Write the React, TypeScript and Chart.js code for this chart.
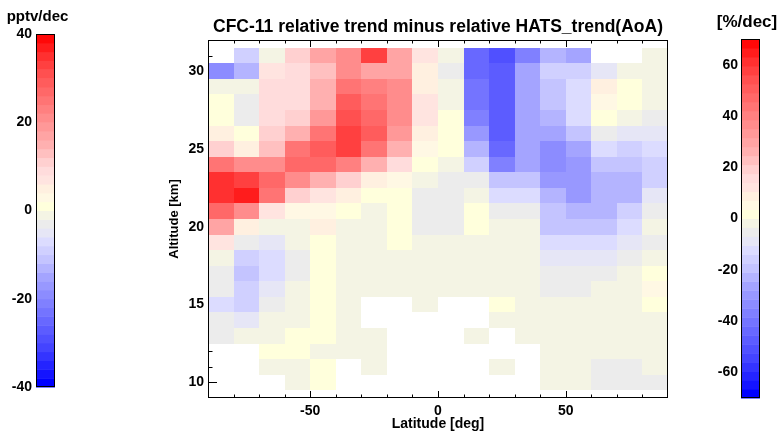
import { useEffect, useRef } from "react";
import { Chart, registerables } from "chart.js";

Chart.register(...registerables);

const FONT = '"Liberation Sans", Arial, Helvetica, sans-serif';

// Latitude bin centres [deg] (10° bins) and altitude bin centres [km] (1 km bins, top → bottom)
const latCenters = [-85, -75, -65, -55, -45, -35, -25, -15, -5, 5, 15, 25, 35, 45, 55, 65, 75, 85];
const altCenters = [31, 30, 29, 28, 27, 26, 25, 24, 23, 22, 21, 20, 19, 18, 17, 16, 15, 14, 13, 12, 11, 10];
const LAT_BIN = 10;
const ALT_BIN = 1;

// CFC-11 relative trend minus relative HATS trend(AoA) [%/dec]; rows follow altCenters,
// columns follow latCenters, null = no data in that bin
const N = null;
const relTrendDiff: (number | null)[][] = [
  [N, -16, -2, 19, 30, 37, 58, 30, 12, -2, -44, -51, -37, -23, -26, N, N, -2], // 31 km
  [-33, -23, 12, 16, 23, 37, 30, 30, 9, -5, -44, -47, -26, -16, -16, -9, -2, -2], // 30 km
  [-2, -2, 16, 16, 26, 44, 40, 37, 9, -2, -40, -47, -26, -19, -12, 9, 2, -2], // 29 km
  [2, -5, 16, 16, 26, 51, 44, 37, 12, -2, -40, -47, -26, -19, -12, 5, 2, -2], // 28 km
  [2, -5, 16, 19, 33, 54, 47, 37, 12, 2, -37, -47, -26, -23, -13, 2, -2, -5], // 27 km
  [9, 2, 19, 26, 44, 58, 51, 33, 9, 2, -30, -47, -26, -26, -19, -5, -9, -9], // 26 km
  [19, 9, 23, 44, 51, 58, 44, 26, 5, 2, -23, -44, -26, -33, -26, -12, -16, -12], // 25 km
  [44, 37, 37, 47, 47, 40, 26, 16, 2, -2, -16, -37, -26, -33, -30, -19, -19, -16], // 24 km
  [61, 58, 47, 37, 26, 19, 9, 5, -2, -5, -5, -19, -19, -30, -30, -23, -23, -16], // 23 km
  [61, 65, 44, 19, 12, 9, 2, 2, -5, -5, -2, -12, -12, -23, -30, -23, -23, -9], // 22 km
  [47, 37, 12, 5, 5, 2, -2, 2, -5, -5, 2, -5, -5, -19, -23, -23, -16, -5], // 21 km
  [28, 9, -2, -2, 9, -2, -2, 2, -5, -5, 2, -2, -2, -18, -20, -20, -12, -2], // 20 km
  [12, -5, -9, -2, 2, -2, -2, 2, -2, -2, -2, -2, -2, -12, -12, -12, -9, -5], // 19 km
  [-2, -16, -12, -5, 2, -2, -2, -2, -2, -2, -2, -2, -2, -9, -9, -9, -5, -2], // 18 km
  [-5, -19, -12, -5, 2, -2, -2, -2, -2, -2, -2, -2, -2, -5, -5, -5, -2, 2], // 17 km
  [-5, -16, -9, -2, 2, -2, -2, -2, -2, -2, -2, -2, -2, -5, -5, -2, -2, 5], // 16 km
  [-12, -16, -5, -2, 2, -2, N, N, -2, N, N, 2, -2, -2, -2, -2, -2, 2], // 15 km
  [-5, -9, -2, -2, 2, -2, N, N, N, N, N, -2, -2, -2, -2, -2, -2, -2], // 14 km
  [-5, -2, -2, 2, 2, -2, -2, N, N, N, -2, N, -2, -2, -2, -2, -2, -2], // 13 km
  [N, N, 2, 2, -2, -2, -2, N, N, N, N, N, N, -2, -2, -2, -2, -2], // 12 km
  [N, N, -2, -2, 2, N, -2, N, N, N, N, -2, N, -2, -2, -5, -5, -2], // 11 km
  [N, N, N, -2, 2, N, N, N, N, N, N, N, N, -2, -2, -5, -5, -5], // 10 km
];

const xTickValues = [-50, 0, 50];
const yTickValues = [10, 15, 20, 25, 30];
const pptvTicks = [-40, -20, 0, 20, 40];
const pctTicks = [-60, -40, -20, 0, 20, 40, 60];

const PCT_RANGE = [-70, 70];
const PPTV_RANGE = [-40, 40];

// Stepped blue – grey/yellow – red palette (40 levels)
const PALETTE = [
  "#0000ff", "#1414ff", "#2424ff", "#3434ff", "#4444ff", "#5050ff", "#5c5cff", "#6868ff", "#7474ff", "#8080ff",
  "#8c8cff", "#9898ff", "#a4a4ff", "#b4b4ff", "#c4c4ff", "#d0d0ff", "#dcdcff", "#e6e6f6", "#ececec", "#f4f4e4",
  "#ffffdc", "#fff8e4", "#fff0e0", "#ffe4e0", "#ffdcdc", "#ffd0d0", "#ffc0c0", "#ffb0b0", "#ffa4a4", "#ff9898",
  "#ff8c8c", "#ff8080", "#ff7474", "#ff6868", "#ff5c5c", "#ff5050", "#ff4040", "#ff3030", "#ff1c1c", "#ff0808",
];

function levelColor(v: number, min: number, max: number) {
  const n = PALETTE.length;
  const i = Math.max(0, Math.min(n - 1, Math.floor(((v - min) / (max - min)) * n)));
  return PALETTE[i];
}

const cellPoints: { x: number; y: number; v: number }[] = [];
relTrendDiff.forEach((row, i) =>
  row.forEach((v, j) => {
    if (v !== null) cellPoints.push({ x: latCenters[j], y: altCenters[i], v });
  })
);

const heatmapPlugin = {
  id: "heatmapCells",
  beforeDatasetsDraw(chart: any) {
    const { ctx, chartArea: a, scales } = chart;
    const xs = scales.x;
    const ys = scales.y;
    ctx.save();

    // inward tick marks on all four sides (drawn below the cells)
    ctx.strokeStyle = "#000";
    ctx.lineWidth = 1;
    ctx.beginPath();
    for (let lat = -80; lat <= 80; lat += LAT_BIN) {
      const px = Math.round(xs.getPixelForValue(lat)) + 0.5;
      const len = xTickValues.includes(lat) ? 7 : 3.5;
      ctx.moveTo(px, a.bottom);
      ctx.lineTo(px, a.bottom - len);
      ctx.moveTo(px, a.top);
      ctx.lineTo(px, a.top + len);
    }
    for (let z = 10; z <= 31; z += ALT_BIN) {
      const py = Math.round(ys.getPixelForValue(z)) + 0.5;
      const len = yTickValues.includes(z) ? 9 : 4.5;
      ctx.moveTo(a.left, py);
      ctx.lineTo(a.left + len, py);
      ctx.moveTo(a.right, py);
      ctx.lineTo(a.right - len, py);
    }
    ctx.stroke();

    // cells
    for (const p of cellPoints) {
      const x0 = Math.round(xs.getPixelForValue(p.x - LAT_BIN / 2));
      const x1 = Math.round(xs.getPixelForValue(p.x + LAT_BIN / 2));
      const y0 = Math.round(ys.getPixelForValue(p.y + ALT_BIN / 2));
      const y1 = Math.round(ys.getPixelForValue(p.y - ALT_BIN / 2));
      ctx.fillStyle = levelColor(p.v, PCT_RANGE[0], PCT_RANGE[1]);
      ctx.fillRect(x0, y0, x1 - x0, y1 - y0);
    }

    // plot frame
    ctx.strokeStyle = "#000";
    ctx.lineWidth = 1;
    ctx.strokeRect(Math.round(a.left) + 0.5, Math.round(a.top) + 0.5, Math.round(a.width) - 1, Math.round(a.height) - 1);
    ctx.restore();
  },
};

const boldFont = (size: number) => ({ family: FONT, size, weight: "bold" as const });

function colorbarPlugin(min: number, max: number, label: string, labelX: number, labelY: number, labelSize: number) {
  return {
    id: "colorbarFill",
    beforeDatasetsDraw(chart: any) {
      const { ctx, chartArea: a, scales } = chart;
      const ys = scales.y;
      const n = PALETTE.length;
      ctx.save();
      for (let i = 0; i < n; i++) {
        const v0 = min + ((max - min) * i) / n;
        const v1 = min + ((max - min) * (i + 1)) / n;
        const yTop = ys.getPixelForValue(v1);
        const yBot = ys.getPixelForValue(v0);
        ctx.fillStyle = PALETTE[i];
        ctx.fillRect(a.left, yTop, a.right - a.left, yBot - yTop + 0.5);
      }
      ctx.strokeStyle = "#000";
      ctx.lineWidth = 1;
      ctx.strokeRect(Math.round(a.left) + 0.5, Math.round(a.top) + 0.5, Math.round(a.width) - 1, Math.round(a.height) - 1);

      // unit label above the bar
      ctx.fillStyle = "#000";
      ctx.font = `bold ${labelSize}px ${FONT}`;
      ctx.textAlign = "center";
      ctx.textBaseline = "middle";
      ctx.fillText(label, labelX, labelY);
      ctx.restore();
    },
  };
}

function colorbarConfig(
  range: number[],
  ticks: number[],
  label: string,
  box: {
    axisWidth: number;
    top: number;
    right: number;
    bottom: number;
    labelX: number;
    labelY: number;
    labelSize: number;
    tickPad: number;
  }
): any {
  return {
    type: "scatter",
    data: { datasets: [] },
    options: {
      responsive: false,
      animation: false,
      devicePixelRatio: 1,
      layout: { padding: { left: 0, right: box.right, top: box.top, bottom: box.bottom } },
      plugins: {
        legend: { display: false },
        tooltip: { enabled: false },
        title: { display: false },
      },
      scales: {
        x: { display: false, min: 0, max: 1 },
        y: {
          min: range[0],
          max: range[1],
          afterBuildTicks: (s: any) => {
            s.ticks = ticks.map((v) => ({ value: v }));
          },
          afterFit: (s: any) => {
            s.width = box.axisWidth;
          },
          ticks: { color: "#000", font: boldFont(14), padding: box.tickPad, autoSkip: false, callback: (v: any) => String(v) },
          grid: { display: false, drawTicks: false },
          border: { display: false },
        },
      },
    },
    plugins: [colorbarPlugin(range[0], range[1], label, box.labelX, box.labelY, box.labelSize)],
  };
}

function mainConfig(): any {
  return {
    type: "scatter",
    data: { datasets: [{ data: cellPoints, pointRadius: 0, pointHoverRadius: 0 }] },
    options: {
      responsive: false,
      animation: false,
      devicePixelRatio: 1,
      layout: { padding: { left: 160, right: 113, top: 0, bottom: 0 } },
      plugins: {
        legend: { display: false },
        tooltip: { enabled: false },
        title: {
          display: true,
          text: "CFC-11 relative trend minus relative HATS_trend(AoA)",
          fullSize: false,
          color: "#000",
          font: boldFont(17.5),
          padding: { top: 16.4, bottom: 2.6 },
        },
      },
      scales: {
        x: {
          type: "linear",
          min: -90,
          max: 90,
          afterBuildTicks: (s: any) => {
            s.ticks = xTickValues.map((v) => ({ value: v }));
          },
          afterFit: (s: any) => {
            s.height = 35;
          },
          ticks: { color: "#000", font: boldFont(14), padding: 5, maxRotation: 0, autoSkip: false, callback: (v: any) => String(v) },
          grid: { display: false, drawTicks: false },
          border: { display: false },
          title: { display: true, text: "Latitude [deg]", color: "#000", font: boldFont(14), padding: { top: 0, bottom: 0 } },
        },
        y: {
          type: "linear",
          min: 9,
          max: 32,
          afterBuildTicks: (s: any) => {
            s.ticks = yTickValues.map((v) => ({ value: v }));
          },
          afterFit: (s: any) => {
            s.width = 48;
          },
          ticks: { color: "#000", font: boldFont(14), padding: 4, autoSkip: false, callback: (v: any) => String(v) },
          grid: { display: false, drawTicks: false },
          border: { display: false },
          title: { display: true, text: "Altitude [km]", color: "#000", font: boldFont(13), padding: { top: 7, bottom: 0 } },
        },
      },
    },
    plugins: [heatmapPlugin],
  };
}

export default function App() {
  const mainRef = useRef<HTMLCanvasElement>(null);
  const leftRef = useRef<HTMLCanvasElement>(null);
  const rightRef = useRef<HTMLCanvasElement>(null);

  useEffect(() => {
    const charts = [
      new Chart(mainRef.current!, mainConfig()),
      new Chart(
        leftRef.current!,
        colorbarConfig(PPTV_RANGE, pptvTicks, "pptv/dec", {
          axisWidth: 36,
          top: 34,
          right: 20,
          bottom: 46,
          labelX: 37.5,
          labelY: 17,
          labelSize: 15,
          tickPad: 4,
        })
      ),
      new Chart(
        rightRef.current!,
        colorbarConfig(PCT_RANGE, pctTicks, "[%/dec]", {
          axisWidth: 41,
          top: 39,
          right: 21,
          bottom: 35,
          labelX: 47,
          labelY: 22,
          labelSize: 17,
          tickPad: 3,
        })
      ),
    ];
    return () => charts.forEach((c) => c.destroy());
  }, []);

  return (
    <div style={{ position: "fixed", left: 0, top: 0, width: 781, height: 433, background: "#fff", overflow: "hidden" }}>
      <canvas ref={mainRef} width={781} height={433} style={{ position: "absolute", left: 0, top: 0, width: 781, height: 433 }} />
      <canvas ref={leftRef} width={75} height={433} style={{ position: "absolute", left: 0, top: 0, width: 75, height: 433 }} />
      <canvas ref={rightRef} width={81} height={433} style={{ position: "absolute", left: 700, top: 0, width: 81, height: 433 }} />
    </div>
  );
}
